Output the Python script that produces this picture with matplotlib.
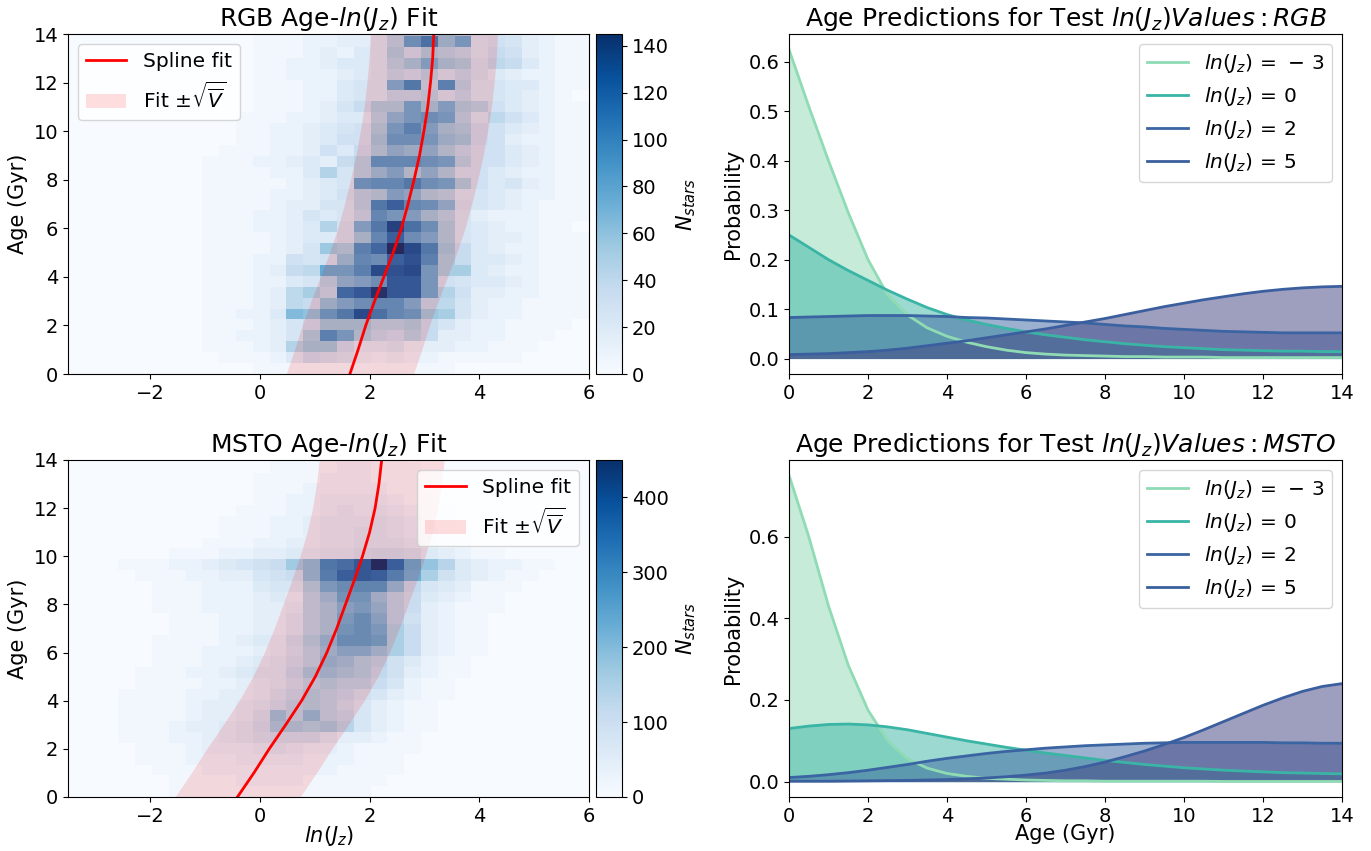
import numpy as np
import matplotlib
matplotlib.use('Agg')
import matplotlib.pyplot as plt

plt.rcParams['font.size'] = 14

# 2D histogram counts: one string per age bin (top bin first),
# one base-36 digit per ln(Jz) bin, N_stars = digit * scale
rgb_scale = 5
rgb_rows = [
    "00000 00000 01112 12249 99b85 43221 1",
    "00000 00000 01112 23359 gkcf5 65321 1",
    "00000 00000 01112 3245a 7a985 76321 1",
    "00000 00000 01122 34459 beba6 87421 1",
    "00000 00000 01122 23458 79686 43221 1",
    "00000 00000 01112 2455e j8i95 54421 1",
    "00000 00000 01112 24558 89685 54321 0",
    "00000 00000 01112 357aa fbea9 64321 1",
    "00000 00000 11122 3449d fgf95 86421 1",
    "00000 00000 11223 456af ieba7 64321 1",
    "00000 00000 11223 466bg gfcb7 63221 1",
    "00000 00001 11223 647ad cda86 64321 1",
    "00000 00011 12234 379hh hgf96 64321 1",
    "00000 00011 11224 959ce ada66 43221 1",
    "00000 00011 11123 45ghh jgfa6 45321 1",
    "00000 00011 11223 469ae da955 43221 1",
    "00000 00011 11233 559jm hgd65 43211 1",
    "00000 00011 12235 458hf eb953 22211 1",
    "00000 00011 12234 96ejq kga54 32211 0",
    "00000 00011 11234 46bhm gea54 33211 1",
    "00000 00011 11235 bailt pjb74 32211 1",
    "00000 00011 12265 6chgm oia74 43211 1",
    "00000 00011 12378 ffipo pfaa4 32211 1",
    "00000 00011 12245 9degn nf654 43211 1",
    "00000 00011 1238a 8lnsn nf963 32211 1",
    "00000 00011 12387 ceghh e8853 22111 1",
    "00000 00011 224dc gjpkh gba53 22111 1",
    "00000 00011 12357 bbb99 a7532 21111 0",
    "00000 00011 2235a ifa87 97332 21110 0",
    "00000 00011 1239b b7445 33322 11100 0",
    "00000 00001 11247 65323 22111 11000 0",
    "00000 00000 01111 11111 11100 00000 0",
]

msto_scale = 15
msto_rows = [
    "00000 00000 00111 11111 00000 00000 0",
    "00000 00000 00111 12211 10000 00000 0",
    "00000 00000 01111 22211 10000 00000 0",
    "00000 00000 01112 22221 10000 00000 0",
    "00000 00000 01122 33332 11000 00000 0",
    "00000 00000 11122 34343 21100 00000 0",
    "00000 00001 11223 44454 31100 00000 0",
    "00000 00001 11223 44554 32110 00000 0",
    "00000 00011 12233 44555 42110 00000 0",
    "00000 01112 23344 55677 64321 10000 0",
    "00011 12234 567bd kloun gc943 22110 0",
    "00001 11223 3567d jnonj fa643 21100 0",
    "00000 11122 2455a fhiid 85431 11000 0",
    "00000 11122 23439 cggc9 74321 10000 0",
    "00000 11122 23349 befd9 73211 10000 0",
    "00000 01112 23359 bfhe9 63211 00000 0",
    "00000 01112 23359 bghfa 73211 00000 0",
    "00000 11112 3447a dhhga 73211 00000 0",
    "00000 11122 23469 ceeca 73211 00000 0",
    "00000 11122 34579 dca96 42110 00000 0",
    "00001 11223 4558b cba86 32110 00000 0",
    "00001 11122 34579 a9975 21100 00000 0",
    "00011 11223 3468a 98653 21100 00000 0",
    "00011 11233 4579a 97532 11000 00000 0",
    "00011 11233 46c9d 98532 11000 00000 0",
    "00011 12334 57bba b9532 11000 00000 0",
    "00011 12234 56777 53321 10000 00000 0",
    "00001 11233 34543 32111 10000 00000 0",
    "00001 11222 33332 22111 00000 00000 0",
    "00000 11122 22222 21111 00000 00000 0",
    "00000 01111 22221 11110 00000 00000 0",
    "00000 01111 11111 11100 00000 00000 0",
]

lnj_edges = np.linspace(-3.5, 6, 32)
age_edges = np.linspace(0, 14.37, 33)

# spline fits (age -> ln Jz) and sqrt(V)
spline_age = [0, 1, 2, 3, 4, 5, 6, 7, 8, 9, 10, 11, 12, 13, 14]
rgb_spline = [1.64, 1.79, 1.93, 2.09, 2.26, 2.43, 2.58, 2.70, 2.81, 2.91, 2.99, 3.06, 3.11, 3.15, 3.17]
msto_spline = [-0.41, -0.11, 0.17, 0.47, 0.76, 1.01, 1.22, 1.40, 1.56, 1.72, 1.87, 2.00, 2.10, 2.17, 2.22]
rgb_sig = 1.16
msto_sig = 1.14

# age predictions, one value every 0.5 Gyr from 0 to 14
test_lnj = ['-\\,3', '0', '2', '5']
pred_age = [0, 0.5, 1, 1.5, 2, 2.5, 3, 3.5, 4, 4.5, 5, 5.5, 6, 6.5, 7, 7.5,
            8, 8.5, 9, 9.5, 10, 10.5, 11, 11.5, 12, 12.5, 13, 13.5, 14]
rgb_prob = [
    [.625, .51, .40, .295, .20, .128, .088, .062, .045, .033, .024, .017, .012, .009, .007,
     .006, .005, .004, .004, .003, .003, .003, .002, .002, .002, .002, .002, .002, .002],
    [.25, .225, .20, .178, .158, .138, .12, .103, .089, .078, .069, .061, .054, .048, .043,
     .038, .034, .030, .027, .024, .022, .020, .018, .017, .016, .015, .015, .014, .014],
    [.083, .084, .085, .086, .087, .087, .087, .086, .085, .083, .082, .080, .078, .076, .074,
     .072, .069, .066, .064, .061, .059, .057, .055, .054, .053, .052, .052, .052, .052],
    [.008, .009, .010, .012, .014, .017, .021, .026, .031, .036, .042, .048, .054, .060, .067,
     .074, .081, .089, .097, .105, .112, .119, .125, .131, .136, .140, .143, .145, .146],
]
msto_prob = [
    [.75, .60, .43, .285, .175, .10, .056, .033, .02, .013, .008, .006, .004, .003, .002,
     .002, .001, .001, .001, .001, .001, .001, .0005, .0005, .0005, .0005, .0005, .0005, .0005],
    [.13, .136, .14, .141, .139, .134, .127, .118, .109, .10, .092, .084, .077, .070, .064,
     .058, .052, .047, .042, .038, .034, .031, .028, .026, .024, .022, .021, .020, .019],
    [.01, .013, .017, .022, .028, .035, .042, .05, .057, .063, .069, .074, .078, .082, .085,
     .088, .09, .092, .094, .095, .096, .096, .096, .096, .096, .095, .095, .094, .094],
    [.001, .001, .001, .0015, .002, .0025, .003, .004, .005, .007, .009, .012, .016, .021, .028,
     .037, .048, .061, .075, .091, .108, .127, .147, .167, .187, .205, .221, .233, .24],
]
line_colors = ['#8fdbb4', '#3ab5a5', '#3a64a2', '#3b5f9e']
fill_colors = ['#8fdbb4', '#3ab5a5', '#3a64a0', '#3f3f80']


def draw_hist(ax, cax, rows, scale, spline, sig, title, loc):
    counts = np.array([[int(ch, 36) for ch in r.replace(' ', '')] for r in rows])[::-1] * scale
    mesh = ax.pcolormesh(lnj_edges, age_edges, counts, cmap='Blues', vmin=0, vmax=counts.max())
    spline = np.array(spline)
    ax.plot(spline, spline_age, color='red', lw=2, label='Spline fit')
    ax.fill_betweenx(spline_age, spline - sig, spline + sig, color='red', alpha=0.13, lw=0,
                     label=r'Fit $\pm\sqrt{\overline{V}}$')
    ax.set_xlim(-3.5, 6)
    ax.set_ylim(0, 14)
    ax.set_ylabel('Age (Gyr)', fontsize=15)
    ax.set_title(title, fontsize=18)
    ax.legend(loc=loc, fontsize=14.5)
    cb = fig.colorbar(mesh, cax=cax)
    cb.set_label(r'$N_{stars}$', fontsize=15)


def draw_pred(ax, probs, title):
    for lab, p, lc, fc in zip(test_lnj, probs, line_colors, fill_colors):
        ax.plot(pred_age, p, color=lc, lw=2, label=r'$ln(J_z)\,=\,%s$' % lab)
        ax.fill_between(pred_age, 0, p, color=fc, alpha=0.5, lw=0)
    ax.set_xlim(0, 14)
    ax.set_ylabel('Probability', fontsize=15)
    ax.set_title(title, fontsize=18)
    ax.legend(loc='upper right', fontsize=14.5)


fig = plt.figure(figsize=(13.71, 8.51), dpi=100)
ax1 = fig.add_axes([0.0496, 0.5605, 0.380, 0.3995])
cax1 = fig.add_axes([0.4347, 0.5605, 0.019, 0.3995])
ax2 = fig.add_axes([0.5755, 0.5605, 0.4034, 0.3995])
ax3 = fig.add_axes([0.0496, 0.0635, 0.380, 0.396])
cax3 = fig.add_axes([0.4347, 0.0635, 0.019, 0.396])
ax4 = fig.add_axes([0.5755, 0.0635, 0.4034, 0.396])

draw_hist(ax1, cax1, rgb_rows, rgb_scale, rgb_spline, rgb_sig, r'RGB Age-$ln(J_z)$ Fit', 'upper left')
draw_hist(ax3, cax3, msto_rows, msto_scale, msto_spline, msto_sig, r'MSTO Age-$ln(J_z)$ Fit', 'upper right')
ax3.set_xlabel(r'$ln(J_z)$', fontsize=15, labelpad=-1)

draw_pred(ax2, rgb_prob, r'Age Predictions for Test $ln(J_z) Values: RGB$')
draw_pred(ax4, msto_prob, r'Age Predictions for Test $ln(J_z) Values: MSTO$')
ax4.set_xlabel('Age (Gyr)', fontsize=15, labelpad=-1)

fig.savefig('out.png', dpi=100)
